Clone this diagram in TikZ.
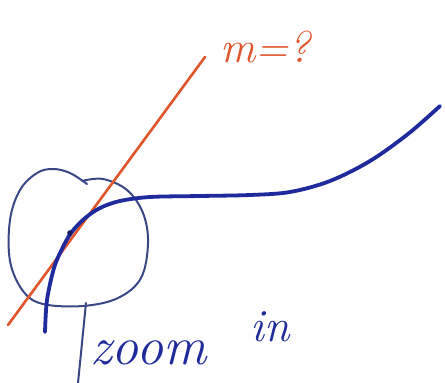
\documentclass[tikz,border=0pt]{standalone}
\usetikzlibrary{calc}
\definecolor{penred}{HTML}{E0552C}
\definecolor{penblue}{HTML}{1F2A9C}
\definecolor{penslate}{HTML}{3A4785}
\tikzset{
  redpen/.style={draw=penred, line width=2.6pt, line cap=round},
  bluepen/.style={draw=penblue, line width=3.8pt, line cap=round, line join=round},
  thinpen/.style={draw=penslate, line width=2pt, line cap=round, line join=round},
  hand/.style={inner sep=0pt, font=\itshape}
}
\begin{document}
\begin{tikzpicture}[x=1pt,y=-1pt]
\useasboundingbox (0,0) rectangle (445,383);
% circle (zoom region)
\draw[thinpen] plot[smooth, tension=0.6] coordinates {(82,181) (103,179) (127,190) (143,213) (148,243) (141,278) (118,298) (83,306) (43,304) (23,291) (10,261) (10,220) (20,190) (37,173) (53,169) (70,173) (87,184)};
% stem below circle
\coordinate (stemtop) at (86,303);
\coordinate (stembot) at (78,383);
\draw[thinpen] (stemtop) -- (stembot);
% tangent line
\coordinate (ta) at (8,325);
\coordinate (tb) at (205,57);
\draw[redpen] (ta) -- (tb);
% curve
\draw[bluepen] plot[smooth, tension=0.55] coordinates {(45,332) (47,300) (54,268) (62,249) (71,233) (84,219) (100,208) (120,201) (150,197) (200,196) (250,195) (290,192) (330,181) (370,161) (408,134) (440,106)};
% tangent point
\fill[penblue!60!black] (70,233) circle (2.8pt);
% labels
\node[hand, text=penred, font=\itshape\fontsize{44}{44}\selectfont, anchor=base west] (slope) at (220,62) {m=?};
\node[hand, text=penblue, font=\itshape\fontsize{54}{54}\selectfont, anchor=base west] (zoomlbl) at (90,364) {zoom};
\node[hand, text=penblue, font=\itshape\fontsize{46}{46}\selectfont, anchor=base west] (inlbl) at (250,341) {in};
\end{tikzpicture}
\end{document}
